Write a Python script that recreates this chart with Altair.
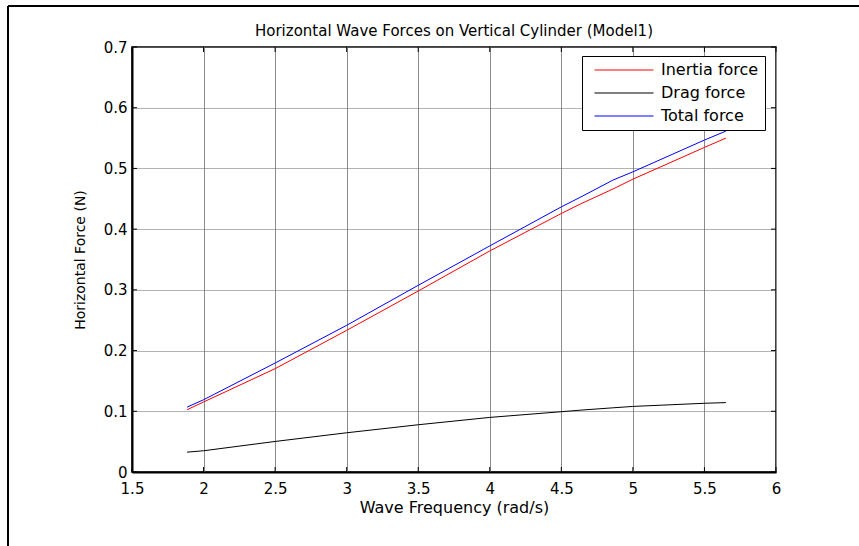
import altair as alt
import pandas as pd

# ---- data ----
freq = [1.885, 2.0, 2.5, 3.0, 3.5, 4.0, 4.5, 4.63, 4.86, 5.0, 5.5, 5.65]
inertia = [0.1026, 0.1153, 0.1702, 0.2333, 0.2981, 0.3641, 0.4258, 0.4411, 0.4660, 0.4823, 0.5346, 0.5500]
drag = [0.0327, 0.0350, 0.0503, 0.0646, 0.0778, 0.0899, 0.0993, 0.1018, 0.1057, 0.1080, 0.1132, 0.1143]
total = [0.1069, 0.1190, 0.1795, 0.2416, 0.3075, 0.3724, 0.4367, 0.4522, 0.4807, 0.4944, 0.5467, 0.5615]

series_names = ["Inertia force", "Drag force", "Total force"]
series_colors = ["#ff0000", "#000000", "#0000ff"]

x_ticks = [1.5, 2, 2.5, 3, 3.5, 4, 4.5, 5, 5.5, 6]
y_ticks = [0, 0.1, 0.2, 0.3, 0.4, 0.5, 0.6, 0.7]

title_text = "Horizontal Wave Forces on Vertical Cylinder (Model1)"
x_title = "Wave Frequency (rad/s)"
y_title = "Horizontal Force (N)"

FONT = "DejaVu Sans"
W, H = 644, 425

rows = []
for name, vals in zip(series_names, [inertia, drag, total]):
    for f, v in zip(freq, vals):
        rows.append({"freq": f, "force": v, "series": name})
df = pd.DataFrame(rows)

xscale = alt.Scale(domain=[1.5, 6], nice=False, zero=False)
yscale = alt.Scale(domain=[0, 0.7], nice=False)

lines = alt.Chart(df).mark_line(strokeWidth=1).encode(
    x=alt.X("freq:Q", scale=xscale, axis=alt.Axis(
        values=x_ticks, format="~g", title=x_title, grid=True,
        gridColor="#8c8c8c", gridWidth=1, ticks=False,
        domainColor="black", domainWidth=2, labelFlush=False, labelOverlap=False,
        labelFont=FONT, labelFontSize=15, labelColor="black", labelPadding=9,
        titleFont=FONT, titleFontSize=16, titleFontWeight="normal",
        titleColor="black", titlePadding=3)),
    y=alt.Y("force:Q", scale=yscale, axis=alt.Axis(
        values=y_ticks, format="~g", title=y_title, grid=True,
        gridColor="#666666", gridDash=[1, 1], gridWidth=1, ticks=False,
        domainColor="black", domainWidth=2, labelFlush=False, labelOverlap=False,
        labelFont=FONT, labelFontSize=15, labelColor="black", labelPadding=5,
        titleFont=FONT, titleFontSize=14, titleFontWeight="normal",
        titleColor="black", titlePadding=16)),
    color=alt.Color("series:N", scale=alt.Scale(domain=series_names, range=series_colors),
                    legend=alt.Legend(
                        title=None, orient="none", legendX=450, legendY=9,
                        symbolType="stroke", symbolSize=3481, symbolStrokeWidth=1,
                        clipHeight=16, rowPadding=7, padding=6, symbolOffset=6,
                        labelOffset=7, labelFont=FONT, labelFontSize=16,
                        labelColor="black", strokeColor="black", fillColor="white")),
)

xt = pd.DataFrame({"freq": x_ticks})
yt = pd.DataFrame({"force": y_ticks})

xtick_bottom = alt.Chart(xt).mark_rule(color="black", strokeWidth=1).encode(
    x=alt.X("freq:Q", scale=xscale), y=alt.value(H), y2=alt.value(H - 5))
xtick_top = alt.Chart(xt).mark_rule(color="black", strokeWidth=1).encode(
    x=alt.X("freq:Q", scale=xscale), y=alt.value(0), y2=alt.value(5))
ytick_left = alt.Chart(yt).mark_rule(color="black", strokeWidth=1).encode(
    y=alt.Y("force:Q", scale=yscale), x=alt.value(0), x2=alt.value(5))
ytick_right = alt.Chart(yt).mark_rule(color="black", strokeWidth=1).encode(
    y=alt.Y("force:Q", scale=yscale), x=alt.value(W - 5), x2=alt.value(W))

one = pd.DataFrame({"k": [0]})
frame_top = alt.Chart(one).mark_rule(color="black", strokeWidth=2).encode(
    x=alt.value(-124), x2=alt.value(740), y=alt.value(-41), y2=alt.value(-41))
frame_left = alt.Chart(one).mark_rule(color="black", strokeWidth=2).encode(
    x=alt.value(-124), x2=alt.value(-124), y=alt.value(-41), y2=alt.value(510))

chart = alt.layer(
    lines, xtick_bottom, xtick_top, ytick_left, ytick_right, frame_top, frame_left
).properties(
    width=W, height=H,
    background="white",
    autosize=alt.AutoSizeParams(type="none"),
    padding={"left": 132, "top": 47, "right": 83, "bottom": 74},
    title=alt.Title(title_text, font=FONT, fontSize=15, fontWeight="normal",
                    color="black", anchor="middle", frame="group",
                    baseline="alphabetic", offset=-46),
).configure_view(stroke="black", strokeWidth=1.5)

chart.save("out.html", embed_options={"renderer": "svg", "actions": False})
